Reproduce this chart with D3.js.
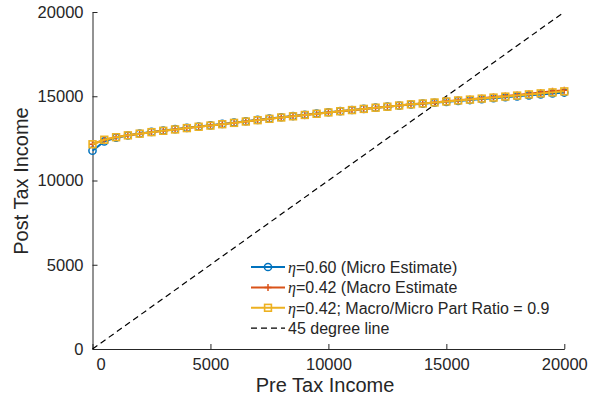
<!DOCTYPE html>
<html><head><meta charset="utf-8">
<script src="https://cdn.jsdelivr.net/npm/d3@7"></script>
<style>body{margin:0;background:#fff}svg{display:block}</style>
</head><body><svg id="c" width="598" height="406"></svg>
<script>
const preTax = [0,500,1000,1500,2000,2500,3000,3500,4000,4500,5000,5500,6000,6500,7000,7500,8000,8500,9000,9500,10000,10500,11000,11500,12000,12500,13000,13500,14000,14500,15000,15500,16000,16500,17000,17500,18000,18500,19000,19500,20000];
const microEta060 = [11770,12320,12540,12670,12790,12880,12965,13045,13125,13205,13275,13355,13435,13515,13595,13675,13755,13825,13900,13970,14050,14115,14185,14250,14320,14380,14445,14510,14560,14615,14670,14725,14775,14830,14885,14940,14995,15055,15110,15165,15220];
const macroEta042 = [12150,12420,12570,12680,12780,12870,12950,13030,13110,13190,13260,13340,13420,13500,13580,13660,13740,13810,13885,13955,14035,14105,14175,14245,14315,14380,14450,14520,14575,14635,14700,14765,14820,14885,14950,15015,15080,15150,15220,15290,15360];
const partRatio09 = [12150,12420,12570,12680,12780,12870,12950,13030,13110,13190,13260,13340,13420,13500,13580,13660,13740,13810,13890,13960,14040,14110,14180,14250,14320,14380,14450,14520,14570,14630,14690,14750,14800,14860,14920,14980,15040,15110,15170,15230,15290];
const lineX = [0,20000];
const xTicks = [0,5000,10000,15000,20000];
const yTicks = [0,5000,10000,15000,20000];
const legendLabels = ["=0.60 (Micro Estimate)","=0.42 (Macro Estimate","=0.42; Macro/Micro Part Ratio = 0.9","45 degree line"];
const colors = ["#0072BD","#D95319","#EDB120","#000000"];

const svg = d3.select("#c");
const x = d3.scaleLinear().domain([0,20000]).range([92.5,564.3]);
const y = d3.scaleLinear().domain([0,20000]).range([349,12]);
const axisCol = "#262626";
const font = "'Liberation Sans', Arial, sans-serif";

// axes
const xa = svg.append("g").attr("transform","translate(0,349)")
  .call(d3.axisBottom(x).tickValues(xTicks).tickSizeInner(-5).tickSizeOuter(0).tickPadding(9).tickFormat(d3.format("d")));
const ya = svg.append("g").attr("transform","translate(92.5,0)")
  .call(d3.axisLeft(y).tickValues(yTicks).tickSizeInner(-5).tickSizeOuter(0).tickPadding(9).tickFormat(d3.format("d")));
[xa,ya].forEach(g=>{
  g.select(".domain").attr("stroke",axisCol).attr("stroke-width",1);
  g.selectAll(".tick line").attr("stroke",axisCol);
  g.selectAll("text").attr("fill",axisCol).style("font-family",font).style("font-size","16.5px");
});
xa.selectAll(".tick text").filter(d=>d===0).attr("dx",8);

svg.append("text").attr("x",325).attr("y",392).attr("text-anchor","middle")
  .attr("fill",axisCol).style("font-family",font).style("font-size","20px").text("Pre Tax Income");
svg.append("text").attr("transform","translate(28,181) rotate(-90)").attr("text-anchor","middle")
  .attr("fill",axisCol).style("font-family",font).style("font-size","20px").text("Post Tax Income");

const line = d3.line().x(d=>x(d[0])).y(d=>y(d[1]));
// 45 degree line
svg.append("path").datum(lineX.map(v=>[v,v])).attr("d",line)
  .attr("stroke","#000").attr("stroke-width",1.2).attr("stroke-dasharray","6,4").attr("fill","none");

const series = [microEta060, macroEta042, partRatio09];
function marker(g, k, cx, cy){
  if(k===0){
    g.append("circle").attr("cx",cx).attr("cy",cy).attr("r",3.6).attr("fill","none").attr("stroke",colors[0]).attr("stroke-width",1.5);
  } else if(k===1){
    g.append("path").attr("d",`M${cx-3.5},${cy}H${cx+3.5}M${cx},${cy-3.5}V${cy+3.5}`).attr("stroke",colors[1]).attr("stroke-width",1.5);
  } else {
    g.append("rect").attr("x",cx-3.4).attr("y",cy-3.4).attr("width",6.8).attr("height",6.8).attr("fill","none").attr("stroke",colors[2]).attr("stroke-width",1.6);
  }
}
series.forEach((s,k)=>{
  const pts = preTax.map((v,i)=>[v,s[i]]);
  const g = svg.append("g");
  g.append("path").datum(pts).attr("d",line).attr("fill","none").attr("stroke",colors[k]).attr("stroke-width",2);
  pts.forEach(p=>marker(g,k,x(p[0]),y(p[1])));
});

// legend
const ly0 = 267, ldy = 20.4;
legendLabels.forEach((lab,k)=>{
  const yy = ly0 + k*ldy;
  const g = svg.append("g");
  g.append("line").attr("x1",251).attr("x2",285).attr("y1",yy).attr("y2",yy)
    .attr("stroke",colors[k]).attr("stroke-width",k===3?1.2:2).attr("stroke-dasharray",k===3?"6,4":null);
  if(k<3) marker(g,k,268,yy);
  const t = g.append("text").attr("x",288).attr("y",yy+5.7).attr("fill",axisCol).style("font-family",font).style("font-size","16px");
  if(k<3){
    t.append("tspan").style("font-family","'Liberation Serif', 'DejaVu Serif', serif").style("font-style","italic").text("η");
  }
  t.append("tspan").text(lab);
});
</script></body></html>
